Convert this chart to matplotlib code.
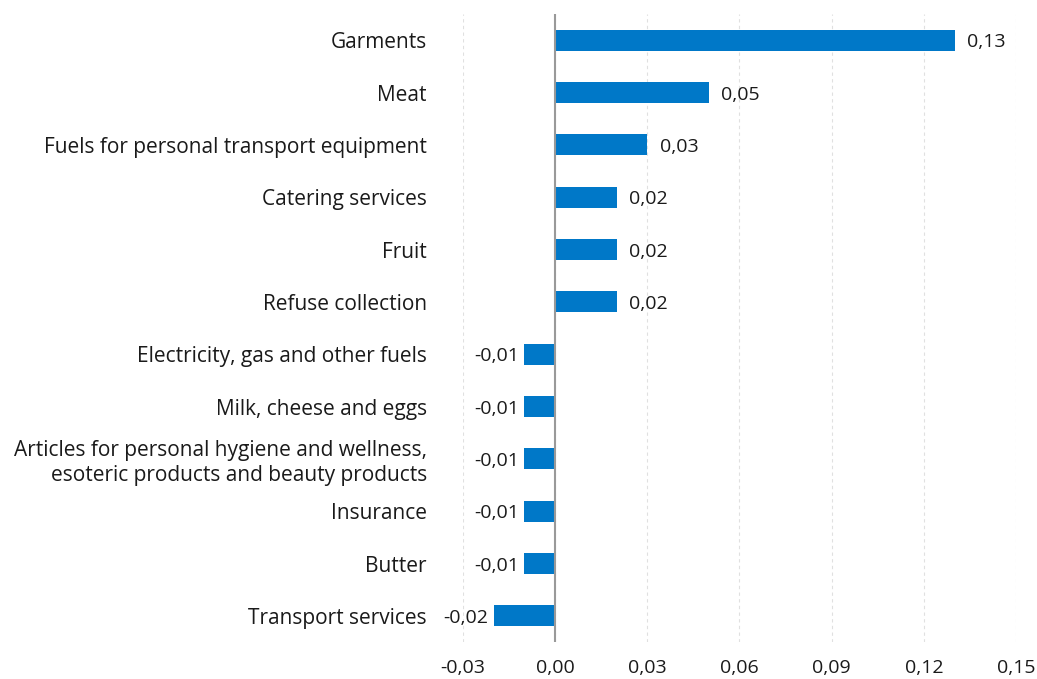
import matplotlib
matplotlib.use("Agg")
import matplotlib.pyplot as plt

categories = [
    "Garments",
    "Meat",
    "Fuels for personal transport equipment",
    "Catering services",
    "Fruit",
    "Refuse collection",
    "Electricity, gas and other fuels",
    "Milk, cheese and eggs",
    "Articles for personal hygiene and wellness,\nesoteric products and beauty products",
    "Insurance",
    "Butter",
    "Transport services",
]
values = [0.13, 0.05, 0.03, 0.02, 0.02, 0.02, -0.01, -0.01, -0.01, -0.01, -0.01, -0.02]
xticks = [-0.03, 0.00, 0.03, 0.06, 0.09, 0.12, 0.15]

plt.rcParams['font.family'] = ['Open Sans', 'DejaVu Sans']
TXT = "#1a1a1a"

fig = plt.figure(figsize=(10.37, 6.79), dpi=100)
ax = fig.add_axes([463/1037, 1-642/679, (1016-463)/1037, (642-14)/679])

y = list(range(len(categories)))
ax.barh(y, values, height=0.4, color="#0078C8", zorder=3)
ax.set_ylim(len(categories)-0.5, -0.5)
ax.set_xlim(-0.03, 0.15)
ax.set_xticks(xticks)
ax.set_xticklabels([f"{t:.2f}".replace(".", ",") for t in xticks], fontsize=14, color=TXT)
ax.set_yticks(y)
ax.set_yticklabels(categories, fontsize=15, color=TXT, linespacing=1.2)
ax.tick_params(axis="both", length=0)
ax.tick_params(axis="x", pad=12)
ax.tick_params(axis="y", pad=26)
for s in ax.spines.values():
    s.set_visible(False)
ax.grid(axis="x", linestyle=(0, (3, 3)), color="#e0e0e0", linewidth=0.8, zorder=0)
ax.axvline(0, color="#999999", linewidth=1.5, zorder=4)

for yi, v in zip(y, values):
    lab = f"{v:.2f}".replace(".", ",")
    if v >= 0:
        ax.annotate(lab, (v, yi), xytext=(9, -1.5), textcoords="offset points",
                    ha="left", va="center", fontsize=14, color=TXT)
    else:
        ax.annotate(lab, (v, yi), xytext=(-4, -1.5), textcoords="offset points",
                    ha="right", va="center", fontsize=14, color=TXT)

fig.savefig("out.png", dpi=100)
